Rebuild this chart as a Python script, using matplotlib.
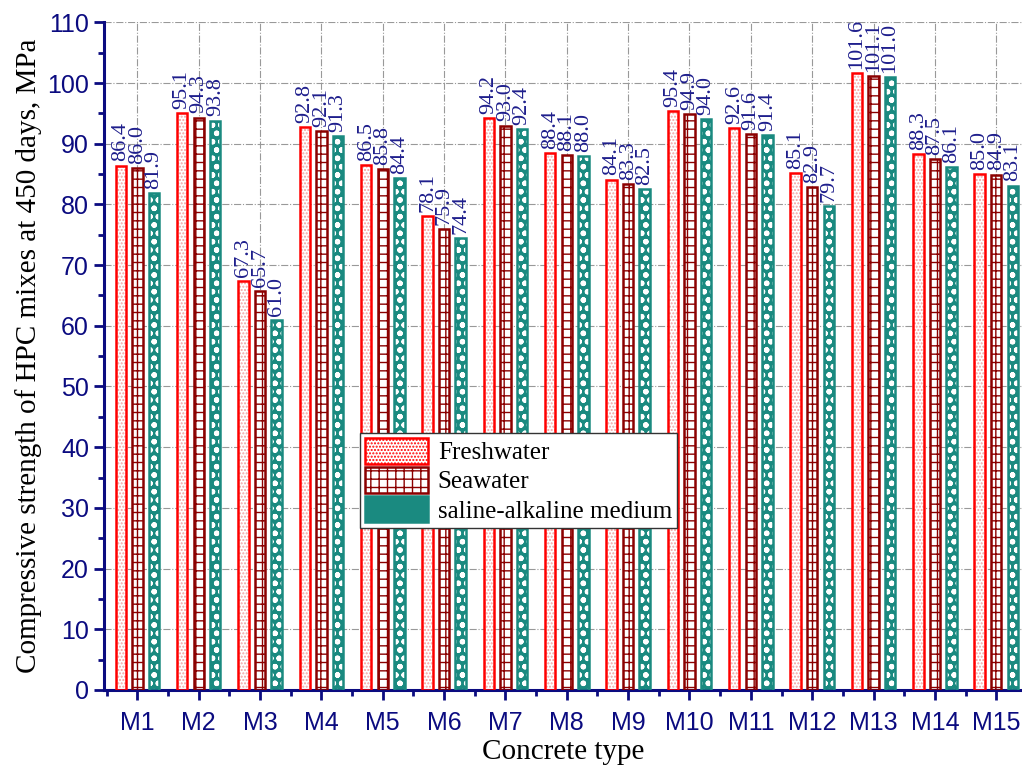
import numpy as np
import matplotlib.pyplot as plt
from matplotlib.patches import Patch
from matplotlib.ticker import MultipleLocator

# data
mixes = ['M%d' % i for i in range(1, 16)]
fresh = [86.4, 95.1, 67.3, 92.8, 86.5, 78.1, 94.2, 88.4, 84.1, 95.4, 92.6, 85.1, 101.6, 88.3, 85.0]
sea = [86.0, 94.3, 65.7, 92.1, 85.8, 75.9, 93.0, 88.1, 83.3, 94.9, 91.6, 82.9, 101.1, 87.5, 84.9]
saline = [81.9, 93.8, 61.0, 91.3, 84.4, 74.4, 92.4, 88.0, 82.5, 94.0, 91.4, 79.7, 101.0, 86.1, 83.1]
series_names = ['Freshwater', 'Seawater', 'saline-alkaline medium']

navy = '#0B0B80'
lblcol = '#1E1E8C'
serif = ['Liberation Serif', 'DejaVu Serif']
sans = ['Liberation Sans', 'DejaVu Sans']

# (edge colour, hatch colour, hatch, face)
styles = [
    ('#FF0000', '#F4A0A0', '.....', 'white'),
    ('#8B0000', '#8B0000', '++', 'white'),
    ('#1A8A80', 'white', 'oo', '#1A8A80'),
]

fig = plt.figure(figsize=(10.22, 7.7), dpi=100)
ax = fig.add_axes([0.102, 0.104, 0.898, 0.867])

x = np.arange(1, len(mixes) + 1)
offsets = [-0.27, 0.0, 0.27]
width = 0.17

for vals, off, (ec, hc, hatch, face) in zip([fresh, sea, saline], offsets, styles):
    pos = x + off
    # hatched fill first, then the outline on top
    b = ax.bar(pos, vals, width, color=face, edgecolor=hc, hatch=hatch, linewidth=0, zorder=2)
    for p in b:
        if hasattr(p, 'set_hatch_linewidth'):
            p.set_hatch_linewidth(1.6 if hatch == 'oo' else 1.0)
    ax.bar(pos, vals, width, fill=False, edgecolor=ec, linewidth=1.8, zorder=3)
    for xi, v in zip(pos, vals):
        ax.annotate('%.1f' % v, (xi, v), xytext=(0, 3), textcoords='offset points',
                    rotation=90, ha='center', va='bottom', color=lblcol,
                    fontsize=16, family=serif, annotation_clip=False)

ax.set_xlim(0.46, 15.42)
ax.set_ylim(0, 110)
ax.set_xticks(x)
ax.set_xticklabels(mixes)
ax.xaxis.set_minor_locator(MultipleLocator(1, offset=0.5))
ax.yaxis.set_major_locator(MultipleLocator(10))
ax.yaxis.set_minor_locator(MultipleLocator(5))

for s in ['top', 'right']:
    ax.spines[s].set_visible(False)
for s in ['left', 'bottom']:
    ax.spines[s].set_color(navy)
    ax.spines[s].set_linewidth(2.2)

ax.tick_params(which='major', length=7, width=2, color=navy, labelcolor=navy)
ax.tick_params(which='minor', length=4, width=2, color=navy)
ax.tick_params(axis='x', labelsize=18, pad=8)
ax.tick_params(axis='y', labelsize=18, pad=4)
for t in ax.get_xticklabels() + ax.get_yticklabels():
    t.set_family(sans)

ax.grid(True, which='major', color='#999999', linestyle='-.', linewidth=0.8, zorder=0)
ax.set_axisbelow(True)

ax.set_ylabel('Compressive strength of HPC mixes at 450 days, MPa', fontsize=21,
              family=serif, color='black', labelpad=4)
ax.set_xlabel('Concrete type', fontsize=21, family=serif, color='black', labelpad=3)

handles = []
for ec, hc, hatch, face in styles:
    handles.append(Patch(facecolor=face, edgecolor=ec, hatch=hatch, linewidth=1.8))
leg = ax.legend(handles, series_names, loc='upper left', bbox_to_anchor=(0.279, 0.385),
                fancybox=False, framealpha=1, edgecolor='#333333',
                prop={'family': serif, 'size': 18}, handlelength=2.5, handleheight=1.2,
                borderpad=0.2, labelspacing=0.12, handletextpad=0.4, borderaxespad=0)
leg.get_frame().set_linewidth(1.0)
leg.set_zorder(5)

fig.savefig('out.png', dpi=100)
